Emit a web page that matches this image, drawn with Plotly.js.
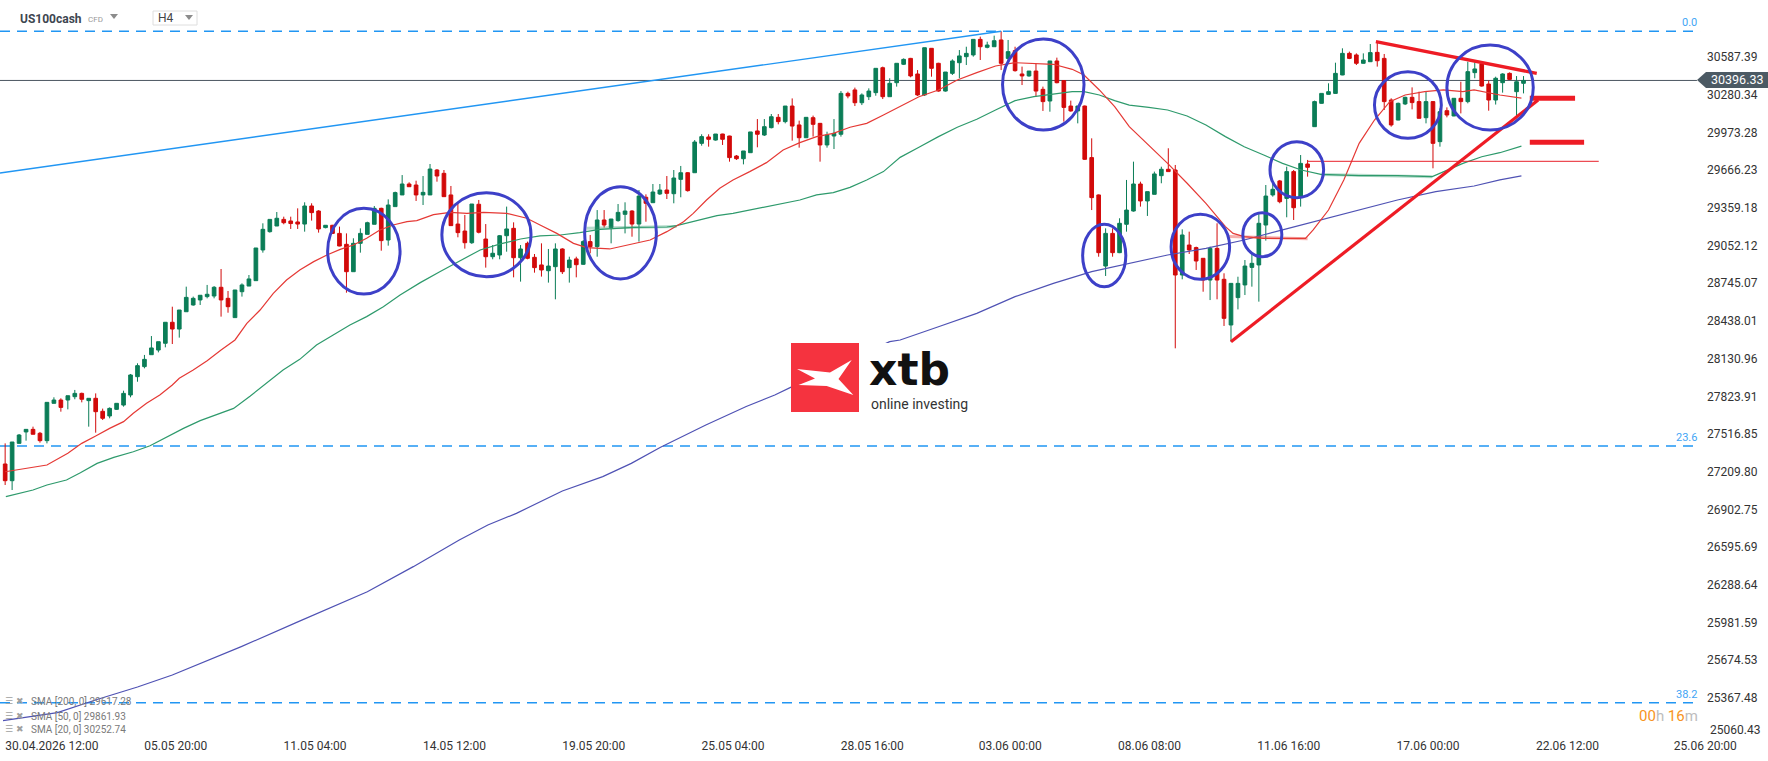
<!DOCTYPE html>
<html>
<head>
<meta charset="utf-8">
<script src="https://cdn.plot.ly/plotly-3.0.1.min.js"></script>
<style>html,body{margin:0;padding:0;background:#fff;}#chart{width:1768px;height:761px;}</style>
</head>
<body>
<div id="chart"></div>
<script>
// ---------- DATA ----------
const openP = [27273,27137,27441,27534,27555,27523,27463,27767,27794,27794,27821,27848,27789,27808,27702,27664,27718,27753,27835,27984,
28066,28163,28201,28256,28427,28372,28513,28568,28609,28636,28641,28712,28622,28465,28676,28722,28766,29016,29165,29211,
29265,29252,29244,29227,29374,29333,29198,29217,29151,29062,28839,29070,29143,29225,29355,29097,29369,29464,29553,29545,
29464,29464,29667,29640,29464,29227,29170,29075,29388,29105,28961,28975,29132,29192,28953,29070,28956,28894,28847,28880,
29024,28872,28943,28899,29084,29043,29260,29198,29255,29306,29333,29227,29445,29401,29472,29504,29474,29591,29645,29645,
29884,29936,29911,29960,29944,29781,29759,29808,29985,29952,30012,30096,30061,30188,30034,29930,30093,30047,29871,29944,
29958,30291,30319,30215,30264,30297,30500,30264,30378,30528,30576,30449,30278,30658,30536,30310,30454,30541,30590,30604,
30731,30666,30671,30726,30576,30639,30449,30433,30473,30324,30229,30555,30395,30188,30148,30188,29768,29464,28885,29151,
28994,29225,29333,29553,29415,29469,29621,29673,29667,28812,29056,29035,28948,28771,29029,28777,28405,28628,28731,28874,
28894,29219,29464,29578,29436,29654,29450,29716,30020,30210,30283,30291,30441,30617,30604,30536,30549,30625,30576,30237,
30074,30205,30259,30224,30093,30224,29898,30150,30107,30251,30224,30460,30530,30367,30237,30378,30454,30305,30373];
const highP = [27441,27452,27517,27555,27577,27534,27775,27816,27808,27829,27876,27854,27808,27848,27724,27734,27767,27870,28006,28093,
28161,28315,28269,28427,28554,28527,28717,28636,28647,28731,28722,28861,28682,28690,28744,28812,29032,29233,29265,29325,
29287,29287,29355,29404,29396,29340,29217,29220,29206,29151,29111,29192,29246,29374,29360,29428,29491,29626,29567,29580,
29618,29716,29675,29667,29537,29396,29301,29390,29423,29227,29056,29138,29369,29241,29056,29084,28983,29070,29024,29070,
29030,28961,28961,29097,29138,29341,29341,29268,29390,29404,29340,29504,29469,29553,29553,29618,29667,29700,29650,29911,
29958,29958,29960,29962,29946,29789,29822,29977,30082,30082,30123,30123,30188,30250,30069,30096,30110,30050,29979,30082,
30310,30305,30338,30291,30332,30495,30509,30414,30536,30576,30580,30481,30663,30660,30540,30465,30568,30644,30671,30731,
30753,30712,30761,30797,30726,30671,30509,30473,30536,30346,30555,30582,30400,30232,30188,30192,29925,29468,29192,29192,
29274,29586,29735,29572,29491,29654,29694,29844,29708,29184,29165,29043,28950,29043,29233,28826,28744,28798,28934,28994,
29320,29545,29553,29586,29694,29667,29789,29749,30232,30291,30373,30541,30658,30631,30617,30617,30693,30712,30612,30251,
30216,30264,30340,30305,30305,30226,30169,30177,30251,30386,30549,30544,30544,30395,30427,30455,30462,30432,30432];
const lowP = [27102,27061,27441,27463,27515,27447,27441,27767,27699,27718,27800,27775,27577,27528,27631,27645,27713,27740,27816,27943,
28052,28163,28182,28223,28250,28302,28513,28562,28568,28622,28622,28473,28505,28465,28636,28722,28766,28994,29157,29211,
29225,29187,29187,29165,29255,29157,29192,29146,29046,28668,28839,28994,29143,29225,29010,29051,29369,29464,29531,29415,
29382,29464,29572,29450,29214,29119,29027,29065,29151,28872,28940,28940,29002,28793,28758,28940,28831,28799,28750,28614,
28820,28750,28793,28895,28989,28961,29198,29070,29246,29151,29124,29084,29246,29401,29464,29431,29396,29445,29491,29645,
29865,29857,29906,29871,29735,29749,29713,29808,29852,29944,30006,30039,30047,29906,29849,29930,29939,29735,29849,29838,
29939,30251,30188,30196,30237,30272,30245,30264,30346,30522,30422,30270,30270,30427,30305,30305,30441,30414,30522,30590,
30563,30658,30671,30481,30549,30468,30359,30427,30264,30148,30142,30373,30061,30142,30047,29749,29341,28961,28804,28961,
28990,29165,29328,29369,29293,29469,29559,29654,28215,28777,28983,28853,28676,28608,28614,28397,28269,28532,28649,28717,
28595,29092,29450,29396,29282,29260,29369,29613,30018,30208,30281,30289,30439,30570,30522,30534,30547,30509,30156,30020,
30072,30196,30161,30088,30047,29681,29857,30096,30105,30128,30210,30414,30346,30150,30200,30297,30400,30101,30291];
const closeP = [27137,27452,27509,27555,27515,27463,27775,27794,27734,27829,27848,27800,27808,27699,27645,27726,27767,27848,27998,28074,
28125,28218,28269,28427,28372,28527,28630,28622,28647,28655,28712,28609,28554,28690,28731,28780,29032,29184,29265,29274,
29238,29231,29227,29374,29320,29187,29217,29151,29048,28839,29070,29151,29238,29355,29092,29382,29483,29553,29531,29464,
29485,29675,29618,29450,29214,29157,29075,29390,29160,28961,28989,29132,29187,28953,29024,28948,28872,28853,28885,29024,
28839,28934,28896,29084,29043,29260,29219,29268,29322,29333,29227,29455,29396,29488,29504,29477,29602,29645,29499,29895,
29939,29917,29960,29917,29768,29759,29822,29977,29958,30020,30101,30061,30188,30025,29930,30096,30039,29871,29952,29966,
30291,30270,30215,30278,30310,30495,30264,30373,30536,30568,30433,30278,30663,30495,30310,30465,30555,30596,30617,30731,
30671,30685,30720,30536,30631,30476,30433,30473,30310,30224,30555,30378,30177,30148,30188,29754,29442,28994,29151,28994,
29233,29341,29553,29415,29491,29635,29673,29654,28812,29138,29016,28926,28771,29029,28771,28459,28744,28744,28885,28907,
29233,29455,29510,29409,29654,29360,29721,29689,30224,30291,30305,30454,30617,30576,30536,30563,30623,30557,30224,30034,
30210,30259,30216,30088,30224,29884,30142,30115,30251,30224,30468,30490,30351,30237,30414,30449,30405,30386,30396.33];

// moving averages (bar position, value)
const sma20X = [1,2,4,6,7,10,12,14,16,18,19.4,21.3,23.2,25,26,28,30,32,34,35.7,37.6,39.5,41.4,43.3,45.3,47.2,49.1,51,52.9,54.8,56.7,58.7,60.1,62.5,64.9,67.3,69.7,73,75.9,77.8,80.2,82.6,84.5,87.8,91.2,93.6,96,98.4,99.8,101.7,103.6,105.5,107.9,110.3,112.7,115.1,117.5,119.9,122.3,124.7,127.1,129.5,132.2,135,137.7,140.5,143.2,146,148.7,151.5,154.2,155.9,158.1,160.3,162.4,165.2,167.9,170.7,173.4,176.2,177.3,178.9,181.7,184.4,187.7,188.8,191,193.2,195.4,197.6,199.8,202,204.8,207.5,210.3,211.9,214.1,215.6,218.7];
const sma20Y = [27210,27219,27238,27251,27265,27360,27441,27501,27563,27618,27686,27767,27835,27916,27971,28038,28114,28201,28283,28418,28527,28663,28771,28853,28921,28975,29021,29056,29111,29179,29219,29246,29255,29304,29322,29314,29322,29314,29274,29219,29151,29070,29035,29024,29065,29097,29165,29246,29314,29423,29518,29586,29654,29727,29830,29890,29939,29966,30015,30047,30115,30183,30264,30319,30400,30460,30514,30541,30536,30528,30487,30441,30319,30183,30020,29871,29721,29559,29396,29206,29151,29124,29111,29111,29111,29179,29341,29586,29884,30074,30224,30278,30305,30319,30305,30319,30291,30278,30253];
const sma50X = [1.1,5,7,9.8,11.8,14.2,16.6,19.4,21.8,24.2,26.6,29,31.3,33.8,36.2,38.5,40.9,43.3,45.7,48.1,50.5,52.9,55.3,57.7,60.6,63.4,66.3,69.2,72.1,75,77.8,80.7,83.5,86.4,91.2,96,97.4,100.8,103.2,105.5,107.9,110.3,112.7,115.1,117.5,119.9,122.3,124.7,127.1,129.5,132.2,135,137.7,140.5,143.2,146,148.7,151.5,154.2,155.9,158.1,160.3,162.4,165.2,167.9,170.7,173.4,176.2,178.9,181.7,184.4,187.1,189.9,195.4,200.9,205.9,207.5,210.3,213,215.6,218.7];
const sma50Y = [27007,27061,27102,27143,27202,27278,27327,27373,27422,27495,27563,27626,27672,27726,27827,27930,28038,28125,28242,28323,28405,28473,28554,28650,28750,28839,28929,29016,29065,29105,29130,29138,29157,29184,29200,29203,29214,29260,29295,29314,29341,29363,29390,29423,29464,29483,29526,29586,29654,29770,29852,29939,30015,30080,30156,30232,30264,30286,30305,30305,30278,30232,30196,30177,30156,30107,30034,29939,29857,29789,29721,29667,29632,29621,29621,29613,29654,29721,29775,29808,29862];
const sma200X = [0.7,8.5,14.3,20,25,29.1,34.9,43.1,53,59.6,66.2,70.3,74.4,81,86.8,90.9,95.1,101.6,107.4,111.5,114,128,129.5,135,140.5,146,151.5,157,162.4,167.9,173.4,178.9,184.4,189.9,195.4,200.9,206.4,211.9,215.6,218.7];
const sma200Y = [25183,25249,25357,25457,25555,25650,25786,25989,26233,26437,26654,26776,26871,27053,27170,27278,27409,27591,27741,27835,27903,28269,28283,28391,28500,28636,28744,28839,28907,28975,29029,29097,29179,29260,29341,29423,29491,29537,29586,29620];

const smaLegend = ['SMA [200, 0] 29617.28', 'SMA [50, 0] 29861.93', 'SMA [20, 0] 30252.74'];
const lastPrice = 30396.33;

const xTickPos = [7.7,25.5,45.5,65.5,85.5,105.5,125.5,145.3,165.3,185.3,205.3,225.3,245.1];
const xTickText = ['30.04.2026 12:00','05.05 20:00','11.05 04:00','14.05 12:00','19.05 20:00','25.05 04:00','28.05 16:00','03.06 00:00','08.06 08:00','11.06 16:00','17.06 00:00','22.06 12:00','25.06 20:00'];
const yTickVals = [25367.48,25674.53,25981.59,26288.64,26595.69,26902.75,27209.80,27516.85,27823.91,28130.96,28438.01,28745.07,29052.12,29359.18,29666.23,29973.28,30280.34,30587.39];
const yBottomLabel = 25060.43;

const fibLevels = [30796.6, 27419.5, 25329.2];
const fibNames = ['0.0', '23.6', '38.2'];

// drawings (bar position, price)
const blueTrend = [[0.26, 29642.7], [144, 30797]];
const redDown = [[197.8, 30712], [220.9, 30454]];
const redUp = [[177, 28269], [221.1, 30237]];
const redBars = [[219.9, 226.4, 30251], [219.9, 227.7, 29893]];
const redThin = [188, 229.8, 29738];
const circles = [[47.3,57.7,28657,29355],[63.7,76.5,28798,29482],[84.2,94.5,28780,29531],[144.2,155.9,29993,30734],
  [155.7,161.9,28717,29225],[168.4,176.8,28777,29306],[178.7,184.3,28961,29319],[182.6,190.3,29442,29898],
  [197.6,207.2,29925,30468],[208.0,220.4,29993,30685]];
const paleGreen = [[[84.5,29192],[97.4,29208]], [[189.9,29630],[205.9,29613]]];
const paleRed = [[[176.7,29125],[188,29108]]];

// ---------- BUILD ----------
const idx = openP.map((_, i) => i + 1);
const W = 1706, H = 737;
const PX = x => x / W, PY = y => 1 - y / H;
const pathOf = pts => 'M' + pts.map(p => PX(p[0]) + ',' + PY(p[1])).join(' L') + ' Z';

const traces = [
  {type:'scatter', mode:'lines', x:sma200X, y:sma200Y, line:{color:'#4f52b4', width:1.2}, hoverinfo:'skip'},
  {type:'scatter', mode:'lines', x:sma50X, y:sma50Y, line:{color:'#2e9a6c', width:1.2}, hoverinfo:'skip'},
  {type:'scatter', mode:'lines', x:sma20X, y:sma20Y, line:{color:'#e53935', width:1.2}, hoverinfo:'skip'},
  {type:'candlestick', x:idx, open:openP, high:highP, low:lowP, close:closeP,
   increasing:{line:{color:'#0b7d57', width:1}, fillcolor:'#0b7d57'},
   decreasing:{line:{color:'#d20a0a', width:1}, fillcolor:'#d20a0a'},
   whiskerwidth:0, hoverinfo:'skip'}
];

const shapes = [];
fibLevels.forEach(v => shapes.push({type:'line', xref:'x', yref:'y', x0:0.26, x1:244.34, y0:v, y1:v,
  line:{color:'#2196F3', width:1.4, dash:'10px,7px'}, layer:'below'}));
shapes.push({type:'line', xref:'x', yref:'y', x0:0.26, x1:243.9, y0:lastPrice, y1:lastPrice, line:{color:'#4b5660', width:1}, layer:'below'});
shapes.push({type:'line', xref:'x', yref:'y', x0:blueTrend[0][0], y0:blueTrend[0][1], x1:blueTrend[1][0], y1:blueTrend[1][1], line:{color:'#2196F3', width:1.4}});
paleGreen.forEach(s => shapes.push({type:'line', xref:'x', yref:'y', x0:s[0][0], y0:s[0][1], x1:s[1][0], y1:s[1][1], line:{color:'rgba(46,154,108,0.35)', width:3}}));
paleRed.forEach(s => shapes.push({type:'line', xref:'x', yref:'y', x0:s[0][0], y0:s[0][1], x1:s[1][0], y1:s[1][1], line:{color:'rgba(229,57,53,0.4)', width:3}}));
shapes.push({type:'line', xref:'x', yref:'y', x0:redThin[0], x1:redThin[1], y0:redThin[2], y1:redThin[2], line:{color:'#e8202a', width:1}});
[redDown, redUp].forEach(l => shapes.push({type:'line', xref:'x', yref:'y', x0:l[0][0], y0:l[0][1], x1:l[1][0], y1:l[1][1], line:{color:'#ee1c25', width:3.2}}));
redBars.forEach(b => shapes.push({type:'line', xref:'x', yref:'y', x0:b[0], x1:b[1], y0:b[2], y1:b[2], line:{color:'#ee1c25', width:5}}));
circles.forEach(c => shapes.push({type:'circle', xref:'x', yref:'y', x0:c[0], x1:c[1], y0:c[2], y1:c[3], line:{color:'#3d40c8', width:3}}));
// xtb logo
shapes.push({type:'rect', xref:'paper', yref:'paper', x0:PX(791), x1:PX(972), y0:PY(412), y1:PY(343), fillcolor:'#ffffff', line:{width:0}, layer:'above'});
shapes.push({type:'rect', xref:'paper', yref:'paper', x0:PX(791), x1:PX(859), y0:PY(412), y1:PY(343), fillcolor:'#f5333f', line:{width:0}, layer:'above'});
shapes.push({type:'path', xref:'paper', yref:'paper', layer:'above', fillcolor:'#ffffff', line:{width:0},
  path: pathOf([[797,369],[830,372.5],[851.7,360],[838.5,379],[853.3,395],[826.7,386],[798.5,385],[815,378.5]])});
// price tag
shapes.push({type:'path', xref:'paper', yref:'paper', layer:'above', fillcolor:'#4c5a64', line:{width:0},
  path: pathOf([[1697,80],[1706,72],[1768,72],[1768,88],[1706,88]])});
// header widgets
shapes.push({type:'path', xref:'paper', yref:'paper', layer:'above', fillcolor:'#8c8c8c', line:{width:0}, path: pathOf([[110,14],[118,14],[114,19]])});
shapes.push({type:'rect', xref:'paper', yref:'paper', layer:'above', x0:PX(153), x1:PX(197), y0:PY(25), y1:PY(11), fillcolor:'#ffffff', line:{color:'#dedede', width:1}});
shapes.push({type:'path', xref:'paper', yref:'paper', layer:'above', fillcolor:'#8c8c8c', line:{width:0}, path: pathOf([[185,15],[193,15],[189,20]])});

const annotations = [];
const A = (x, y, text, opts) => annotations.push(Object.assign({xref:'paper', yref:'paper', x:PX(x), y:PY(y), text:text, showarrow:false, xanchor:'left', yanchor:'middle', borderpad:0}, opts || {}));
A(19, 19, '<b>US100cash</b>', {font:{family:'Roboto', size:12, color:'#3d4650'}});
A(87, 20, 'CFD', {font:{family:'Roboto', size:8, color:'#9a9a9a'}});
A(157, 18, 'H4', {font:{family:'Roboto', size:12, color:'#444'}});
const fibLabelY = [22.7, 437, 694];
fibNames.forEach((t, i) => A(1698, fibLabelY[i], t, {xanchor:'right', font:{family:'Roboto', size:11, color:'#42a5f5'}}));
A(1737, 80, lastPrice.toFixed(2), {xanchor:'center', font:{family:'Roboto', size:12.5, color:'#ffffff'}});
A(1709, 730, yBottomLabel.toFixed(2), {font:{family:'Roboto', size:12, color:'#333333'}});
A(1699, 716, '<span style="color:#f7941d">00</span><span style="color:#bdbdbd">h </span><span style="color:#f7941d">16</span><span style="color:#bdbdbd">m</span>',
  {xanchor:'right', font:{family:'Roboto', size:15, color:'#f7941d'}});
const legY = [701, 716, 729];
smaLegend.forEach((t, i) => {
  A(4, legY[i], '☰', {font:{family:'DejaVu Sans', size:9, color:'#a0a0a0'}});
  A(15, legY[i], '✖', {font:{family:'DejaVu Sans', size:9, color:'#a0a0a0'}});
  A(30, legY[i], t, {font:{family:'Roboto', size:10, color:'#7a7a7a'}});
});
A(868, 369, '<b>xtb</b>', {font:{family:'DejaVu Sans', size:44, color:'#111111'}});
A(870, 404, 'online investing', {font:{family:'Roboto', size:14, color:'#333333'}});

const layout = {
  width:1768, height:761,
  margin:{l:0, r:62, t:0, b:24, pad:0},
  paper_bgcolor:'#ffffff', plot_bgcolor:'#ffffff',
  showlegend:false, hovermode:false, boxgap:0.25,
  xaxis:{range:[0.26, 245.2], showgrid:false, zeroline:false, showline:false, ticks:'',
    tickvals:xTickPos, ticktext:xTickText, tickfont:{family:'Roboto', size:12, color:'#333333'},
    rangeslider:{visible:false}, fixedrange:true},
  yaxis:{range:[25049.8, 31051.5], side:'right', showgrid:false, zeroline:false, showline:false, ticks:'',
    tickvals:yTickVals, ticktext:yTickVals.map(v => v.toFixed(2)), tickfont:{family:'Roboto', size:12, color:'#333333'}, fixedrange:true},
  shapes:shapes, annotations:annotations
};
Plotly.newPlot('chart', traces, layout, {displayModeBar:false, staticPlot:true});
</script>
</body>
</html>
